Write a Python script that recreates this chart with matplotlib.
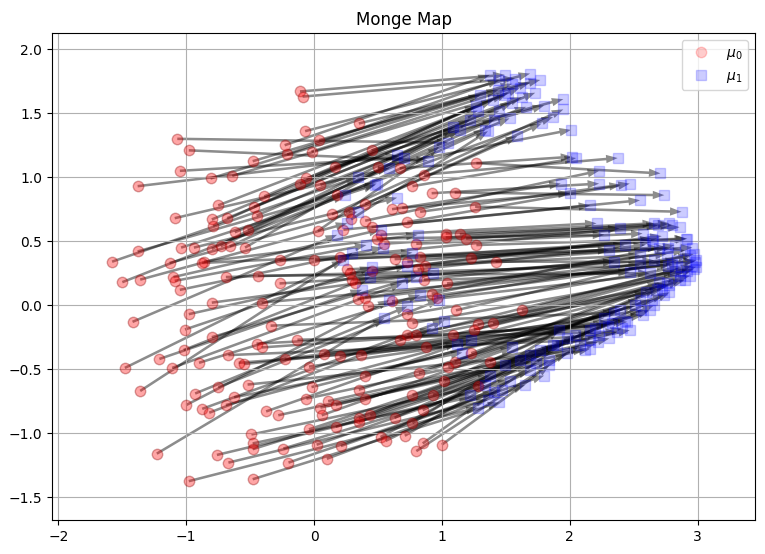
import matplotlib
matplotlib.use('Agg')
import matplotlib.pyplot as plt

# samples of mu_0
x0 = [-0.11, -0.09, 0.35, -0.07, 0.04, -1.07, -0.98, -0.23, -0.21, -0.02,
      0.45, -0.48, -1.05, -0.81, -0.64, -1.38, 0.16, 0.50, 0.67, 0.86,
      1.27, -0.06, -0.11, 0.05, 0.77, 0.18, 0.92, 1.10, 1.26, -0.39,
      -0.75, -0.47, -0.45, -1.09, -0.80, -0.68, -0.79, -0.62, -0.52, 0.14,
      0.27, 0.40, 0.29, 0.40, 0.03, 0.23, 0.45, 0.61, 0.69, 0.83,
      0.73, 0.52, 0.49, 0.55, 0.80, 1.03, 1.03, 1.14, 1.19, 1.27,
      -1.38, -1.58, -1.04, -0.94, -0.80, -0.73, -0.66, -0.54, -1.13, -0.86,
      -0.875, -0.27, 0.00, 0.20, 0.26, 0.28, 0.30, 0.32, 0.45, 0.63,
      0.73, 0.83, 0.87, 0.81, 0.86, 1.04, 1.23, 1.42, -1.50, -1.36,
      -1.10, -1.09, -1.05, -0.69, -0.44, -0.27, -0.80, -0.41, 0.34, 0.40,
      0.42, 0.61, 0.92, 0.96, -1.42, -0.98, -0.34, -1.01, -0.80, -0.45,
      -0.41, -0.13, -1.02, 0.73, 0.77, 1.11, 1.28, 1.40, 1.25, 1.625,
      1.09, 0.73, 0.80, 0.67, -1.21, -1.48, -1.11, -0.90, -0.67, -0.59,
      -0.55, -0.23, -0.04, 0.08, 0.20, 0.37, 0.875, 1.23, 1.10, 1.05,
      1.375, -1.36, -0.93, -0.75, -0.52, -0.02, 0.40, 0.82, 1.02, 1.28,
      -1.00, -0.875, -0.82, -0.69, -0.625, -0.375, -0.28, -0.06, 0.05, 0.11,
      0.17, 0.06, 0.35, 0.40, 0.77, 0.93, 0.35, 0.35, 0.44, 0.63,
      0.77, 0.85, -0.49, -0.48, -0.48, -0.24, -0.04, 0.02, 0.17, 0.21,
      0.52, 0.56, 0.71, 0.85, 0.80, 1.00, -1.23, -0.76, -0.67, -0.20,
      0.10, -0.98, -0.48]
y0 = [1.67, 1.63, 1.42, 1.36, 1.29, 1.30, 1.21, 1.25, 1.18, 1.20,
      1.21, 1.125, 1.05, 0.99, 1.01, 0.93, 1.08, 1.08, 1.07, 1.02,
      1.11, 0.99, 0.95, 0.94, 0.93, 0.86, 0.875, 0.88, 0.77, 0.85,
      0.78, 0.77, 0.70, 0.68, 0.67, 0.68, 0.62, 0.57, 0.59, 0.71,
      0.73, 0.79, 0.67, 0.66, 0.58, 0.59, 0.61, 0.75, 0.76, 0.73,
      0.65, 0.55, 0.52, 0.48, 0.48, 0.56, 0.53, 0.555, 0.52, 0.47,
      0.42, 0.34, 0.45, 0.45, 0.44, 0.46, 0.46, 0.45, 0.33, 0.34,
      0.33, 0.35, 0.35, 0.38, 0.28, 0.25, 0.195, 0.17, 0.27, 0.36,
      0.34, 0.38, 0.31, 0.28, 0.20, 0.17, 0.37, 0.34, 0.18, 0.20,
      0.22, 0.19, 0.12, 0.22, 0.23, 0.17, 0.02, 0.02, 0.05, 0.06,
      -0.01, 0.03, 0.09, 0.06, -0.13, -0.07, -0.16, -0.19, -0.25, -0.30,
      -0.33, -0.27, -0.35, -0.07, -0.14, -0.04, -0.15, -0.14, -0.19, -0.04,
      -0.23, -0.23, -0.23, -0.27, -0.42, -0.49, -0.49, -0.45, -0.39, -0.45,
      -0.46, -0.42, -0.48, -0.38, -0.40, -0.39, -0.33, -0.375, -0.44, -0.48,
      -0.44, -0.67, -0.69, -0.64, -0.62, -0.64, -0.55, -0.53, -0.59, -0.63,
      -0.78, -0.81, -0.84, -0.78, -0.72, -0.83, -0.86, -0.73, -0.80, -0.75,
      -0.78, -0.86, -0.66, -0.73, -0.70, -0.70, -0.88, -0.91, -0.86, -0.88,
      -0.92, -0.82, -1.01, -1.08, -1.125, -1.12, -0.97, -1.09, -0.95, -1.10,
      -1.03, -1.06, -1.02, -1.08, -1.14, -1.09, -1.16, -1.17, -1.23, -1.23,
      -1.20, -1.375, -1.36]

# where each sample is sent (mu_1), same order
x1 = [1.49, 1.57, 1.77, 1.69, 1.44, 1.05, 0.89, 1.375, 1.45, 1.69,
      1.95, 1.55, 0.70, 1.30, 1.49, 0.65, 1.80, 2.01, 2.02, 2.375,
      2.71, 1.625, 1.52, 1.66, 2.05, 1.87, 2.23, 2.74, 2.875, 1.61,
      1.40, 1.55, 1.45, 0.59, 1.28, 1.73, 1.27, 1.53, 1.41, 1.95,
      1.78, 1.59, 1.36, 2.23, 0.98, 2.55, 2.16, 1.93, 2.00, 2.40,
      2.47, 2.21, 2.27, 2.39, 2.57, 2.66, 2.78, 2.80, 2.86, 2.91,
      0.49, 0.34, 0.48, 0.65, 1.22, 1.14, 1.34, 1.09, 0.34, 0.81,
      0.77, 2.31, 2.43, 2.69, 2.55, 2.64, 2.35, 2.47, 2.72, 2.70,
      2.65, 2.92, 2.77, 2.59, 2.76, 2.84, 2.96, 2.98, 0.24, 0.26,
      0.52, 0.41, 0.54, 2.55, 2.625, 2.66, 0.93, 2.77, 2.80, 2.90,
      2.92, 2.99, 2.82, 2.94, 0.18, 0.73, 2.35, 0.45, 0.80, 2.30,
      2.33, 2.37, 0.44, 2.87, 2.86, 2.97, 2.99, 2.97, 2.94, 2.96,
      2.90, 2.78, 2.82, 2.72, 0.375, 0.23, 0.69, 0.83, 2.16, 2.23,
      2.20, 2.27, 2.43, 2.45, 2.56, 2.57, 2.60, 2.76, 2.70, 2.74,
      2.86, 0.30, 0.73, 0.98, 2.12, 2.39, 2.55, 2.64, 2.68, 2.78,
      0.59, 1.02, 0.92, 1.12, 1.16, 1.23, 1.49, 2.47, 2.16, 2.31,
      2.22, 1.55, 2.51, 2.41, 2.625, 2.66, 1.77, 1.84, 1.69, 1.90,
      1.92, 2.16, 1.34, 1.41, 1.375, 1.53, 1.61, 1.69, 1.74, 1.80,
      1.87, 1.98, 1.98, 2.04, 2.08, 1.84, 0.55, 1.22, 1.36, 1.47,
      1.65, 1.28, 1.45]
y1 = [1.80, 1.77, 1.76, 1.81, 1.68, 1.27, 1.13, 1.80, 1.76, 1.74,
      1.61, 1.73, 1.15, 1.64, 1.64, 1.17, 1.56, 1.37, 1.16, 1.15,
      1.03, 1.625, 1.66, 1.55, 1.15, 1.47, 0.95, 0.86, 0.73, 1.70,
      1.60, 1.58, 1.52, 1.07, 1.52, 1.66, 1.56, 1.46, 1.45, 1.53,
      1.42, 1.32, 1.36, 1.05, 1.24, 0.82, 0.78, 0.95, 0.875, 0.94,
      0.95, 0.64, 0.55, 0.60, 0.56, 0.64, 0.64, 0.625, 0.61, 0.52,
      0.95, 1.00, 0.94, 0.84, 1.45, 1.37, 1.37, 1.39, 0.73, 0.55,
      0.41, 0.43, 0.47, 0.625, 0.39, 0.52, 0.34, 0.26, 0.54, 0.45,
      0.50, 0.52, 0.45, 0.47, 0.40, 0.35, 0.45, 0.34, 0.86, 0.64,
      0.59, 0.47, 0.45, 0.31, 0.25, 0.35, 0.25, 0.31, 0.32, 0.43,
      0.27, 0.35, 0.47, 0.39, 0.55, 0.31, -0.06, 0.30, 0.22, -0.16,
      -0.14, -0.21, 0.22, 0.30, 0.23, 0.40, 0.30, 0.28, 0.23, 0.31,
      0.195, 0.16, 0.27, 0.12, 0.12, 0.35, 0.17, 0.08, -0.27, -0.23,
      -0.18, -0.10, -0.12, -0.13, -0.04, -0.08, 0.10, 0.17, 0.18, 0.08,
      0.195, 0.41, -0.01, 0.04, -0.35, -0.04, 0.04, 0.04, 0.13, 0.10,
      0.04, -0.12, -0.18, -0.30, -0.37, -0.27, -0.47, -0.195, -0.34, -0.26,
      -0.29, -0.33, 0.00, -0.18, -0.04, 0.00, -0.35, -0.43, -0.39, -0.31,
      -0.195, -0.195, -0.625, -0.68, -0.55, -0.59, -0.43, -0.51, -0.45, -0.55,
      -0.31, -0.375, -0.26, -0.23, -0.31, -0.47, -0.10, -0.70, -0.74, -0.66,
      -0.625, -0.80, -0.76]

fig = plt.figure(figsize=(7.65, 5.54), dpi=100)
ax = fig.add_axes([0.068, 0.061, 0.919, 0.879])

# legend proxies keep the lighter look of the reference legend
ax.plot([], [], 'o', color='red', alpha=0.2, markersize=7.5, label=r'$\mu_0$')
ax.plot([], [], 's', color='blue', alpha=0.2, markersize=7.5, label=r'$\mu_1$')

ax.plot(x0, y0, 'o', color='red', markeredgecolor='darkred', alpha=0.35,
        markersize=7.5, markeredgewidth=1.0)
ax.plot(x1, y1, 's', color='blue', alpha=0.2, markersize=7.5)

for i in range(len(x0)):
    ax.arrow(x0[i], y0[i], x1[i] - x0[i], y1[i] - y0[i],
             width=0.02, head_width=0.065, head_length=0.09,
             length_includes_head=True, color='k', alpha=0.45, linewidth=0)

ax.set_xlim(-2.05, 3.45)
ax.set_ylim(-1.68, 2.125)
ax.set_xticks([-2, -1, 0, 1, 2, 3])
ax.set_yticks([-1.5, -1.0, -0.5, 0.0, 0.5, 1.0, 1.5, 2.0])
ax.grid(True)
ax.set_title('Monge Map')
ax.legend(loc='upper right')

fig.savefig('out.png')
